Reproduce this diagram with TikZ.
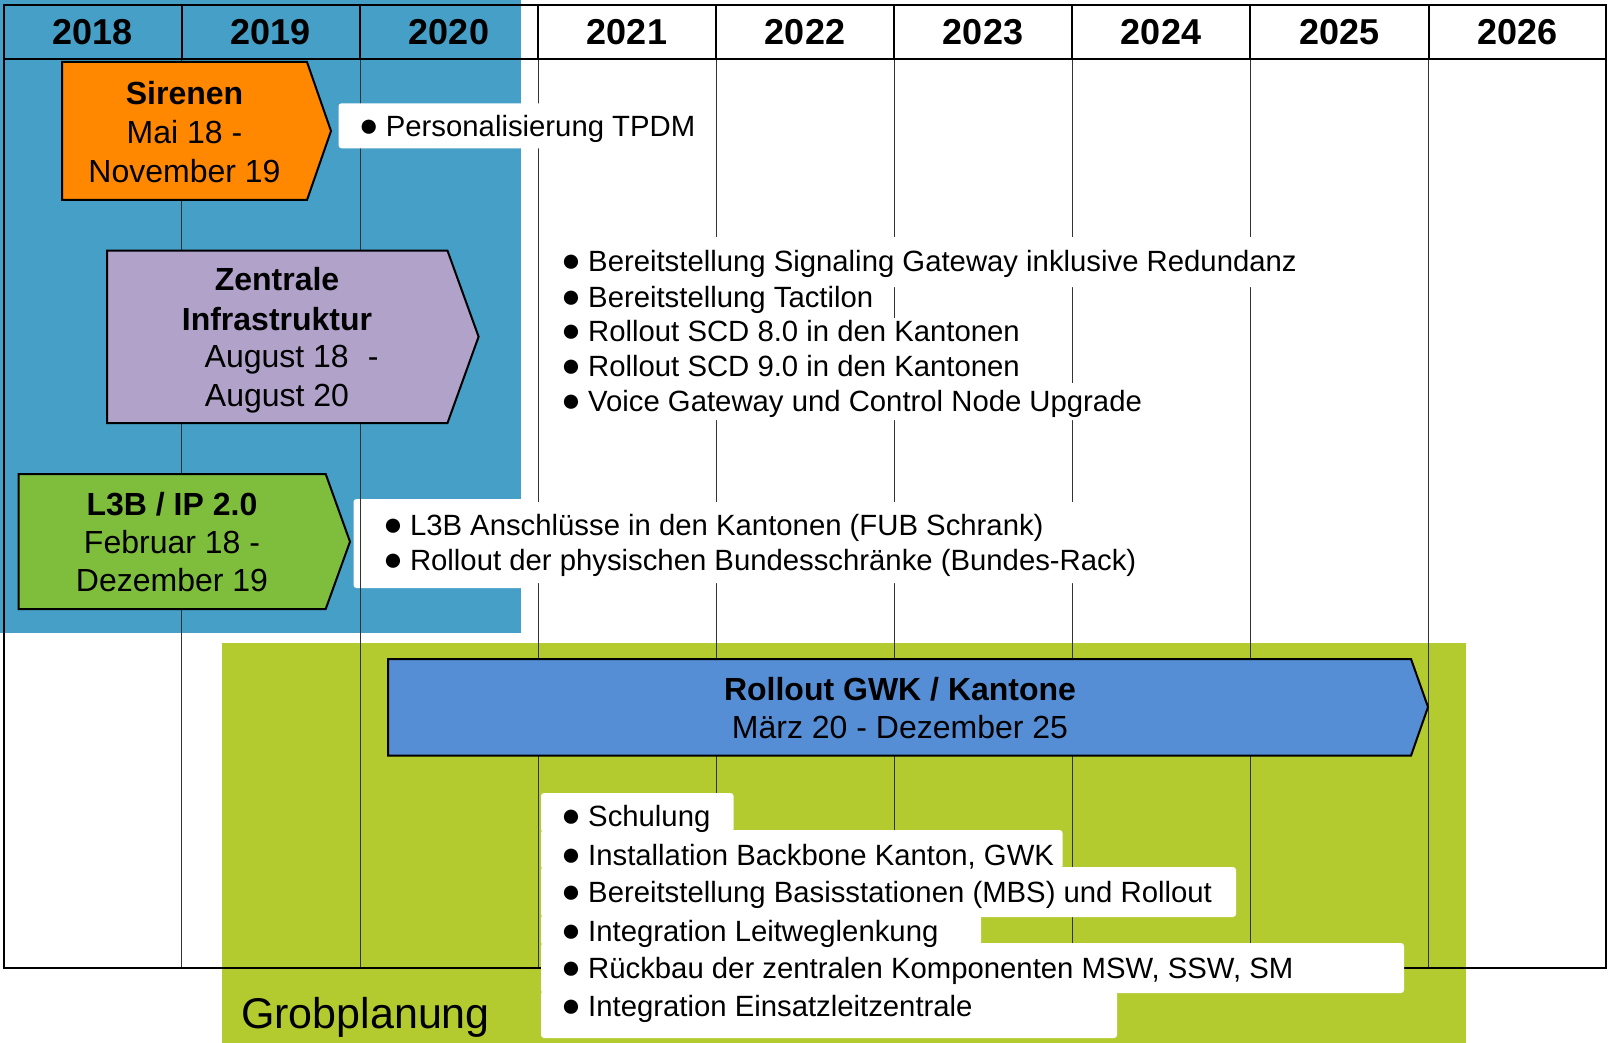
\documentclass[tikz,border=0pt]{standalone}
\usepackage{fontspec}
\setmainfont{Liberation Sans}
\definecolor{feinblue}{RGB}{69,159,198}
\definecolor{grobgreen}{RGB}{179,203,46}
\definecolor{sirorange}{RGB}{255,136,0}
\definecolor{zipurple}{RGB}{177,162,202}
\definecolor{lgreen}{RGB}{126,190,60}
\definecolor{rollblue}{RGB}{85,142,213}
\newcommand\bul{\makebox[12pt][c]{\fontsize{33}{33}\selectfont ●}\hspace{11pt}}
\begin{document}
\begin{tikzpicture}[x=1pt,y=-1pt,
  gridthick/.style={line width=2pt, black},
  gridthin/.style={line width=1pt, black!80},
  phase/.style={draw=black, line width=2pt, line join=miter},
  whitebox/.style={fill=white, draw=none, rounded corners=3pt},
  yearlbl/.style={font=\fontsize{36}{36}\selectfont\bfseries, anchor=base, inner sep=0},
  ptitle/.style={font=\fontsize{32}{32}\selectfont\bfseries, anchor=base, inner sep=0},
  pdate/.style={font=\fontsize{32}{32}\selectfont, anchor=base, inner sep=0},
  item/.style={font=\fontsize{29.3}{29.3}\selectfont, anchor=base west, inner sep=0},
]
\useasboundingbox (0,0) rectangle (1608,1043);

% planning regions
\fill[feinblue] (0,0) rectangle (521,633);
\fill[grobgreen] (221.5,643) rectangle (1466,1043);

% white box lying under the grid
\fill[whitebox] (353.5,499) rectangle (1150,588);

% grid
\foreach \x in {181.5,360,538,716,894,1072,1250,1428.5} {
  \draw[gridthick] (\x,5) -- (\x,59.5);
  \draw[gridthin] (\x,59.5) -- (\x,968);
}
\draw[gridthick] (4,59.5) -- (1606,59.5);
\draw[gridthick] (4,5) rectangle (1606,968);

% years
\node[yearlbl] (y18) at (92.75,45) {2018};
\node[yearlbl] (y19) at (270.75,45) {2019};
\node[yearlbl] (y20) at (449,45) {2020};
\node[yearlbl] (y21) at (627,45) {2021};
\node[yearlbl] (y22) at (805,45) {2022};
\node[yearlbl] (y23) at (983,45) {2023};
\node[yearlbl] (y24) at (1161,45) {2024};
\node[yearlbl] (y25) at (1339.25,45) {2025};
\node[yearlbl] (y26) at (1517.25,45) {2026};

% phase arrows
\path[phase, fill=sirorange] (62,62) -- (307,62) -- (331,131) -- (307,200) -- (62,200) -- cycle;
\path[phase, fill=zipurple] (107,250.7) -- (447.5,250.7) -- (478.6,336.7) -- (447.5,423) -- (107,423) -- cycle;
\path[phase, fill=lgreen] (18.6,474) -- (325.7,474) -- (350,541.7) -- (325.7,609) -- (18.6,609) -- cycle;
\path[phase, fill=rollblue] (388,659) -- (1411,659) -- (1428,707) -- (1411,755.7) -- (388,755.7) -- cycle;

\node[ptitle] (sirT) at (184.5,105) {Sirenen};
\node[pdate] (sirA) at (184.5,143.5) {Mai 18 -};
\node[pdate] (sirB) at (184.5,182.7) {November 19};

\node[ptitle] (ziT1) at (277,290.7) {Zentrale};
\node[ptitle] (ziT2) at (277,330) {Infrastruktur};
\node[pdate, anchor=base west] (ziA) at (204.5,367.3) {August 18\hspace{19pt}-};
\node[pdate] (ziB) at (277,406.7) {August 20};

\node[ptitle] (lT) at (172,515) {L3B / IP 2.0};
\node[pdate] (lA) at (172,553.3) {Februar 18 -};
\node[pdate] (lB) at (172,591.7) {Dezember 19};

\node[ptitle] (rT) at (900,700) {Rollout GWK / Kantone};
\node[pdate] (rA) at (900,738.3) {März 20 - Dezember 25};

% white boxes above the grid
\fill[whitebox] (365,502) rectangle (1150,583);
\fill[whitebox] (338.5,103.3) rectangle (705,148.3);
\fill[whitebox] (548,237) rectangle (1310,287);
\fill[whitebox] (548,285) rectangle (885,320);
\fill[whitebox] (548,318) rectangle (1030,354);
\fill[whitebox] (548,352) rectangle (1030,388);
\fill[whitebox] (548,383) rectangle (1150,420);

\fill[whitebox] (541,793) rectangle (733.5,832);
\fill[whitebox] (541,830) rectangle (1062.5,869);
\fill[whitebox] (541,867) rectangle (1236,917);
\fill[whitebox] (541,915) rectangle (981,945);
\fill[whitebox] (541,943) rectangle (1404,993);
\fill[whitebox] (541,991) rectangle (1117,1038);

% items
\node[item] (p1) at (362.7,136.7) {\bul Personalisierung TPDM};

\node[item] (z1) at (565,271.7) {\bul Bereitstellung Signaling Gateway inklusive Redundanz};
\node[item] (z2) at (565,307.3) {\bul Bereitstellung Tactilon};
\node[item] (z3) at (565,341.7) {\bul Rollout SCD 8.0 in den Kantonen};
\node[item] (z4) at (565,376.7) {\bul Rollout SCD 9.0 in den Kantonen};
\node[item] (z5) at (565,411.7) {\bul Voice Gateway und Control Node Upgrade};

\node[item] (l1) at (386.8,535) {\bul L3B Anschlüsse in den Kantonen (FUB Schrank)};
\node[item] (l2) at (386.8,570.7) {\bul Rollout der physischen Bundesschränke (Bundes-Rack)};

\node[item] (g1) at (565,826.7) {\bul Schulung};
\node[item] (g2) at (565,865) {\bul Installation Backbone Kanton, GWK};
\node[item] (g3) at (565,902.7) {\bul Bereitstellung Basisstationen (MBS) und Rollout};
\node[item] (g4) at (565,941.7) {\bul Integration Leitweglenkung};
\node[item] (g5) at (565,978.3) {\bul Rückbau der zentralen Komponenten MSW, SSW, SM};
\node[item] (g6) at (565,1016) {\bul Integration Einsatzleitzentrale};

\node[font=\fontsize{43}{43}\selectfont, anchor=base west, inner sep=0] (grob) at (241,1028) {Grobplanung};
\end{tikzpicture}
\end{document}
